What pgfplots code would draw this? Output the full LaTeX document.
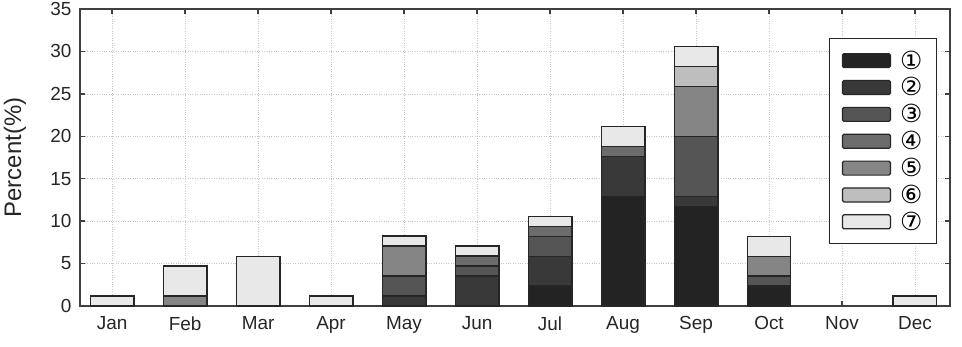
\documentclass[border=0pt]{standalone}
\usepackage{pgfplots}
\usepackage{pgfplotstable}
\pgfplotsset{compat=1.18}
\usepackage{fontspec}
\setmainfont{Liberation Sans}
\newfontfamily\dejavu{DejaVu Sans}
\definecolor{c1}{HTML}{232323}
\definecolor{c2}{HTML}{393939}
\definecolor{c3}{HTML}{555555}
\definecolor{c4}{HTML}{6C6C6C}
\definecolor{c5}{HTML}{858585}
\definecolor{c6}{HTML}{BEBEBE}
\definecolor{c7}{HTML}{E8E8E8}
\pgfplotstableread{
x a b c d e f g
0 0 0 0 0 0 0 1.18
1 0 0 0 0 1.18 0 3.53
2 0 0 0 0 0 0 5.88
3 0 0 0 0 0 0 1.18
4 0 1.18 2.35 0 3.53 0 1.18
5 0 3.53 1.18 1.18 0 0 1.18
6 2.35 3.53 2.35 1.18 0 0 1.18
7 12.94 4.71 0 1.18 0 0 2.35
8 11.76 1.18 7.06 0 5.88 2.35 2.35
9 2.35 0 1.18 0 2.35 0 2.35
10 0 0 0 0 0 0 0
11 0 0 0 0 0 0 1.18
}\data
\begin{document}
\begin{tikzpicture}
\begin{axis}[
  scale only axis, width=870bp, height=297bp,
  ybar stacked, bar width=0.6,
  xmin=-0.44, xmax=11.48, ymin=0, ymax=35,
  xtick={0,...,11},
  xticklabels={Jan,Feb,Mar,Apr,May,Jun,Jul,Aug,Sep,Oct,Nov,Dec},
  ytick={0,5,...,35},
  /pgf/number format/assume math mode=true,
  tick align=inside,
  major tick length=5bp,
  grid=major,
  grid style={dotted, line width=0.7bp, gray!45},
  axis line style={line width=1.3bp, black!75},
  tick style={line width=1.3bp, black!75},
  tick label style={font=\fontsize{19}{20}\selectfont, text=black!85},
  xticklabel style={yshift=-7bp},
  yticklabel style={xshift=-5bp},
  ylabel={Percent(\%)},
  ylabel style={at={(axis description cs:-0.0747,0.5)}, anchor=center,
    font=\fontsize{24}{26}\selectfont, text=black!85},
  every axis plot/.append style={draw=black!85, line width=1.2bp},
  legend style={at={(rel axis cs:0.985,0.902)}, anchor=north east,
    draw=black!85, line width=1.2bp, fill=white,
    inner xsep=12bp, inner ysep=10bp, row sep=3bp,
    font=\dejavu\fontsize{25}{26}\selectfont},
  legend cell align=left,
  legend image code/.code={\draw[#1, line width=1.2bp, rounded corners=1.5bp] (0bp,-7bp) rectangle (48bp,7bp);
    \path (55bp,0bp);},
]
\addplot[fill=c1] table[x=x,y=a]{\data};
\addplot[fill=c2] table[x=x,y=b]{\data};
\addplot[fill=c3] table[x=x,y=c]{\data};
\addplot[fill=c4] table[x=x,y=d]{\data};
\addplot[fill=c5] table[x=x,y=e]{\data};
\addplot[fill=c6] table[x=x,y=f]{\data};
\addplot[fill=c7] table[x=x,y=g]{\data};
\legend{①,②,③,④,⑤,⑥,⑦}
\end{axis}
\pgfresetboundingbox
\path[use as bounding box] ([shift={(-80bp,-41bp)}]current axis.south west) rectangle ([shift={(12bp,9bp)}]current axis.north east);
\end{tikzpicture}
\end{document}
